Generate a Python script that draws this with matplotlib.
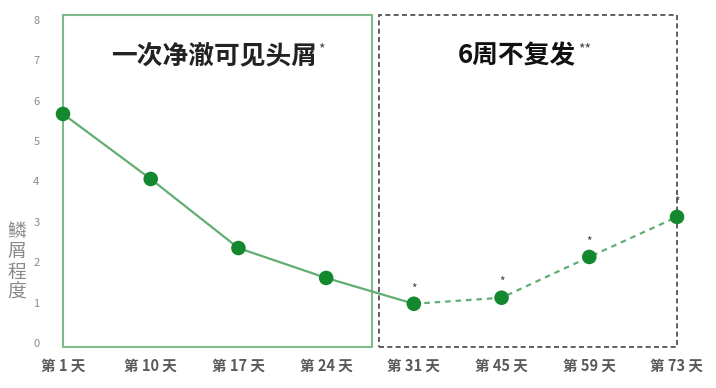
import matplotlib.pyplot as plt
from matplotlib.patches import Rectangle

plt.rcParams['font.family'] = ['Noto Sans CJK SC', 'DejaVu Sans']

# --- data ---
days = ['第 1 天', '第 10 天', '第 17 天', '第 24 天', '第 31 天', '第 45 天', '第 59 天', '第 73 天']
severity = [5.67, 4.06, 2.35, 1.61, 0.97, 1.12, 2.13, 3.12]
split_idx = 4  # solid up to day 31, dashed after
starred = [4, 5, 6, 7]
yticks = [0, 1, 2, 3, 4, 5, 6, 7, 8]
title_left = '一次净澈可见头屑'
title_right = '6周不复发'

line_color = '#62ad72'
dot_color = '#14882f'
text_gray = '#8a8a8a'

fig = plt.figure(figsize=(7.16, 3.88), dpi=100)
ax = fig.add_axes([63/716, 41/388, 614/716, 332/388])
x = list(range(len(days)))

ax.plot(x[:split_idx + 1], severity[:split_idx + 1], color=line_color, lw=1.6, zorder=2)
ax.plot(x[split_idx:], severity[split_idx:], color=line_color, lw=1.6, ls=(0, (2.5, 2.2)), zorder=2)
ax.scatter(x, severity, s=110, color=dot_color, zorder=3, edgecolors='none', clip_on=False)

for i in starred:
    ax.annotate('*', (x[i], severity[i]), xytext=(0, 6), textcoords='offset points',
                ha='center', va='bottom', fontsize=8.5, color='#444444')

ax.set_xlim(0, 7)
ax.set_ylim(-0.1, 8.12)
ax.set_xticks(x)
ax.set_xticklabels(days, fontsize=10.5, color='#5a5a5a', fontweight='bold')
ax.set_yticks(yticks)
ax.set_yticklabels([str(v) for v in yticks], fontsize=8, color=text_gray)
ax.tick_params(axis='y', length=0, pad=17)
ax.tick_params(axis='x', length=0, pad=8)
for s in ax.spines.values():
    s.set_visible(False)

# boxes
ax.add_patch(Rectangle((0, -0.1), 3.52, 8.22, fill=False, ec='#7dbb8a', lw=1.5, clip_on=False, zorder=1))
ax.add_patch(Rectangle((3.6, -0.1), 3.4, 8.22, fill=False, ec='#444444', lw=1.2,
                       ls=(0, (3, 2)), clip_on=False, zorder=1))

t1 = ax.text(1.72, 7.12, title_left, ha='center', va='center', fontsize=18.5, fontweight='bold', color='#222222')
ax.annotate('*', xy=(1, 0.72), xycoords=t1, xytext=(1, 0), textcoords='offset points',
            ha='left', va='center', fontsize=10, color='#444444')
t2 = ax.text(5.18, 7.12, title_right, ha='center', va='center', fontsize=18.5, fontweight='bold', color='#111111')
ax.annotate('**', xy=(1, 0.72), xycoords=t2, xytext=(1, 0), textcoords='offset points',
            ha='left', va='center', fontsize=10, color='#444444')

fig.text(17/716, 1 - 262/388, '\n'.join('鳞屑程度'), ha='center', va='center',
         fontsize=13.5, color=text_gray, linespacing=0.95)

fig.savefig('out.png', dpi=100)
